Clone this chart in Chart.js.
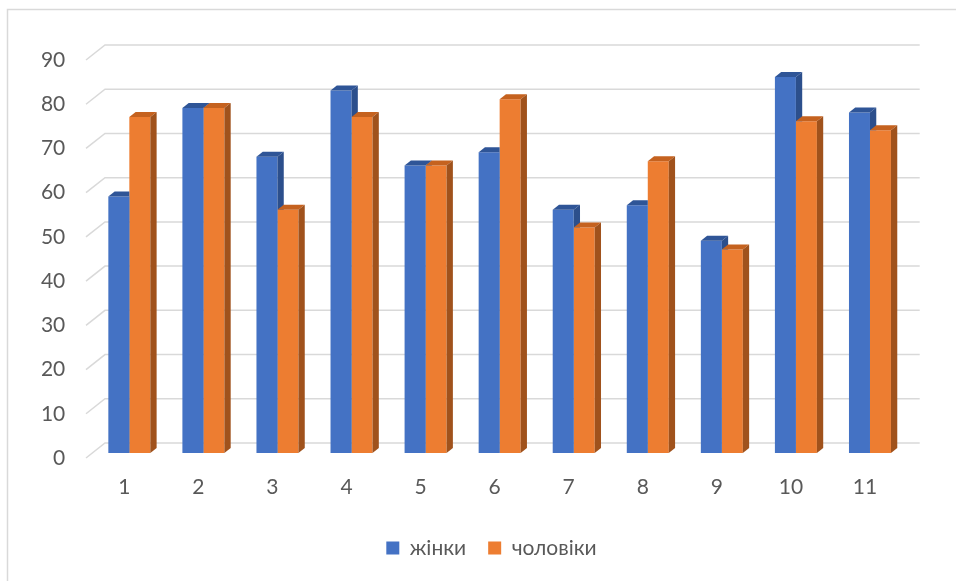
<!DOCTYPE html>
<html>
<head>
<meta charset="utf-8">
<script src="https://cdn.jsdelivr.net/npm/chart.js@4.4.1/dist/chart.umd.min.js"></script>
<style>
  html, body { margin: 0; padding: 0; background: #fff; }
  #wrap { width: 956px; height: 581px; position: relative; }
</style>
</head>
<body>
<div id="wrap"><canvas id="c" width="956" height="581"></canvas></div>
<script>
// Categories and series
const categories = ['1', '2', '3', '4', '5', '6', '7', '8', '9', '10', '11'];
const women = [58, 78, 67, 82, 65, 68, 55, 56, 48, 85, 77];
const men   = [76, 78, 55, 76, 65, 80, 51, 66, 46, 75, 73];
const yTicks = [0, 10, 20, 30, 40, 50, 60, 70, 80, 90];

// Depth geometry of the 3D look (pixels)
const BAR_DX = 6.3, BAR_DY = 5;      // bar depth
const FRONT_DX = 6.3, FRONT_DY = 5;  // bar plane -> front edge of floor
const BACK_DX = 12.7, BACK_DY = 10;  // bar plane -> back wall
const LEGEND_SHIFT = 38;             // legend centred under the plot, not the canvas

const TEXT = '#595959';
const GRID = '#d9d9d9';
const FONT = 'Lato, "Open Sans", sans-serif';

function poly(ctx, pts, color) {
  ctx.beginPath();
  ctx.moveTo(pts[0][0], pts[0][1]);
  for (let i = 1; i < pts.length; i++) ctx.lineTo(pts[i][0], pts[i][1]);
  ctx.closePath();
  ctx.fillStyle = color;
  ctx.fill();
}

function barRect(bar) {
  const p = bar.getProps(['x', 'y', 'width', 'base'], true);
  return { l: p.x - p.width / 2, r: p.x + p.width / 2, t: Math.min(p.y, p.base), b: Math.max(p.y, p.base) };
}

function drawDepth(ctx, r, shade) {
  poly(ctx, [[r.l, r.t], [r.r, r.t], [r.r + BAR_DX, r.t - BAR_DY], [r.l + BAR_DX, r.t - BAR_DY]], shade.top);
  poly(ctx, [[r.r, r.t], [r.r + BAR_DX, r.t - BAR_DY], [r.r + BAR_DX, r.b - BAR_DY], [r.r, r.b]], shade.side);
}

// White page with a thin frame on the top and left
const framePlugin = {
  id: 'frame',
  afterLayout(chart) {
    if (chart.legend) {
      chart.legend.left += LEGEND_SHIFT;
      chart.legend.right += LEGEND_SHIFT;
    }
  },
  beforeDraw(chart) {
    const ctx = chart.ctx;
    ctx.save();
    ctx.fillStyle = '#fff';
    ctx.fillRect(0, 0, chart.width, chart.height);
    ctx.strokeStyle = GRID;
    ctx.lineWidth = 1.5;
    ctx.beginPath();
    ctx.moveTo(7.5, chart.height);
    ctx.lineTo(7.5, 9.5);
    ctx.lineTo(chart.width, 9.5);
    ctx.stroke();
    ctx.restore();
  }
};

// Back wall and side wall gridlines
const wallsPlugin = {
  id: 'walls',
  beforeDatasetsDraw(chart) {
    const ctx = chart.ctx;
    const area = chart.chartArea;
    const y = chart.scales.y;
    ctx.save();
    ctx.strokeStyle = GRID;
    ctx.lineWidth = 1.5;
    yTicks.forEach(v => {
      const py = y.getPixelForValue(v);
      ctx.beginPath();
      ctx.moveTo(area.left - FRONT_DX, py + FRONT_DY);
      ctx.lineTo(area.left + BACK_DX, py - BACK_DY);
      ctx.lineTo(area.right + BACK_DX, py - BACK_DY);
      ctx.stroke();
    });
    ctx.restore();
  }
};

// Top and side faces of each column; the front face of the right-hand
// column of a pair hides the side of the left-hand one.
const shadeColors = [
  { top: '#2F5597', side: '#2C4F8C' },
  { top: '#C5621F', side: '#A0521C' }
];
const depthPlugin = {
  id: 'depth',
  afterDatasetsDraw(chart) {
    const ctx = chart.ctx;
    const left = chart.getDatasetMeta(0).data;
    const right = chart.getDatasetMeta(1).data;
    left.forEach((bar, i) => {
      const r = barRect(bar);
      const o = barRect(right[i]);
      ctx.save();
      ctx.beginPath();
      ctx.rect(0, 0, chart.width, chart.height);
      ctx.rect(o.l, o.t, o.r - o.l, o.b - o.t);
      ctx.clip('evenodd');
      drawDepth(ctx, r, shadeColors[0]);
      ctx.restore();
    });
    ctx.save();
    right.forEach(bar => drawDepth(ctx, barRect(bar), shadeColors[1]));
    ctx.restore();
  }
};

new Chart(document.getElementById('c'), {
  type: 'bar',
  data: {
    labels: categories,
    datasets: [
      { label: 'жінки', data: women, backgroundColor: '#4472C4',
        categoryPercentage: 0.567, barPercentage: 1 },
      { label: 'чоловіки', data: men, backgroundColor: '#ED7D31',
        categoryPercentage: 0.567, barPercentage: 1 }
    ]
  },
  options: {
    responsive: false,
    animation: false,
    layout: { padding: { top: 55, right: 49, bottom: 12.5, left: 0 } },
    scales: {
      x: {
        grid: { display: false, drawTicks: false },
        border: { display: false },
        ticks: { color: TEXT, font: { family: FONT, size: 21 }, padding: 22, labelOffset: -5, maxRotation: 0 },
        afterFit(s) { s.height = 62.5; }
      },
      y: {
        min: 0, max: 90,
        grid: { display: false, drawTicks: false },
        border: { display: false },
        ticks: { stepSize: 10, color: TEXT, font: { family: FONT, size: 21 }, padding: 27, labelOffset: 5 },
        afterFit(s) { s.width = 92.3; }
      }
    },
    plugins: {
      legend: {
        position: 'bottom',
        labels: {
          color: TEXT,
          font: { family: FONT, size: 21 },
          boxWidth: 13, boxHeight: 13,
          padding: 22
        }
      },
      tooltip: { enabled: false }
    }
  },
  plugins: [framePlugin, wallsPlugin, depthPlugin]
});
</script>
</body>
</html>
